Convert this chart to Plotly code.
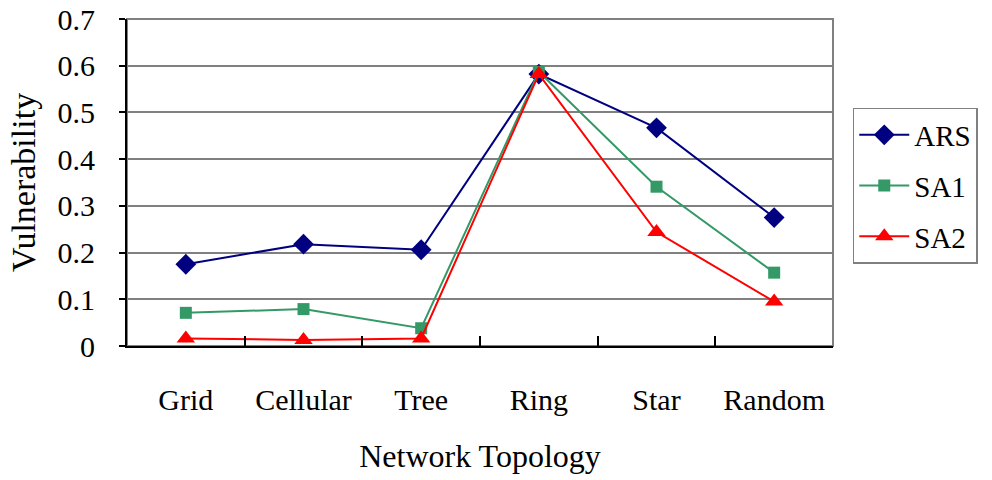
import plotly.graph_objects as go

# Network topologies on the x axis
topologies = ["Grid", "Cellular", "Tree", "Ring", "Star", "Random"]

# Vulnerability per algorithm
ars = [0.175, 0.218, 0.206, 0.582, 0.467, 0.275]
sa1 = [0.071, 0.079, 0.038, 0.587, 0.341, 0.157]
sa2 = [0.016, 0.013, 0.016, 0.582, 0.244, 0.095]

y_ticks = [0, 0.1, 0.2, 0.3, 0.4, 0.5, 0.6, 0.7]
y_tick_text = ["0", "0.1", "0.2", "0.3", "0.4", "0.5", "0.6", "0.7"]

FONT = "Liberation Serif"

series = [
    ("ARS", ars, "#000080", "diamond", 16),
    ("SA1", sa1, "#339966", "square", 12),
    ("SA2", sa2, "#FF0000", "triangle-up", 16),
]

fig = go.Figure()
for name, vals, color, symbol, size in series:
    fig.add_trace(go.Scatter(
        x=topologies, y=vals, name=name, legendgroup=name,
        mode="lines+markers",
        line=dict(color=color, width=2),
        marker=dict(symbol=symbol, size=size, color=color),
    ))

# gray frame around the plotting area
fig.add_shape(type="rect", xref="paper", yref="paper", x0=0, y0=0, x1=1, y1=1,
              line=dict(color="#808080", width=2), layer="below")

fig.update_layout(
    width=992, height=480,
    margin=dict(l=127, r=159, t=19, b=134),
    paper_bgcolor="white", plot_bgcolor="white",
    font=dict(family=FONT, size=30, color="black"),
    showlegend=True,
    legend=dict(
        x=1.028, y=0.728, xanchor="left", yanchor="top",
        bgcolor="white", bordercolor="#808080", borderwidth=1.5,
        font=dict(family=FONT, size=29),
        tracegroupgap=10, itemwidth=50,
    ),
    xaxis=dict(
        type="category", range=[-0.5, 5.5], automargin=False,
        showline=True, linecolor="black", linewidth=2,
        ticks="inside", tickson="boundaries", ticklen=10, tickcolor="black", tickwidth=1.5,
        showgrid=False, ticklabelstandoff=26,
        tickfont=dict(family=FONT, size=30),
        title=dict(text="Network Topology", font=dict(family=FONT, size=32), standoff=30),
    ),
    yaxis=dict(
        range=[0, 0.7], tickvals=y_ticks, ticktext=y_tick_text, automargin=False,
        showline=True, linecolor="black", linewidth=2,
        ticks="outside", ticklen=6, tickcolor="black", tickwidth=1.5,
        showgrid=True, gridcolor="#808080", gridwidth=2,
        zeroline=False, ticklabelstandoff=18,
        tickfont=dict(family=FONT, size=30),
        title=dict(text="Vulnerability", font=dict(family=FONT, size=34), standoff=12),
    ),
)

fig.write_html("out.html")
